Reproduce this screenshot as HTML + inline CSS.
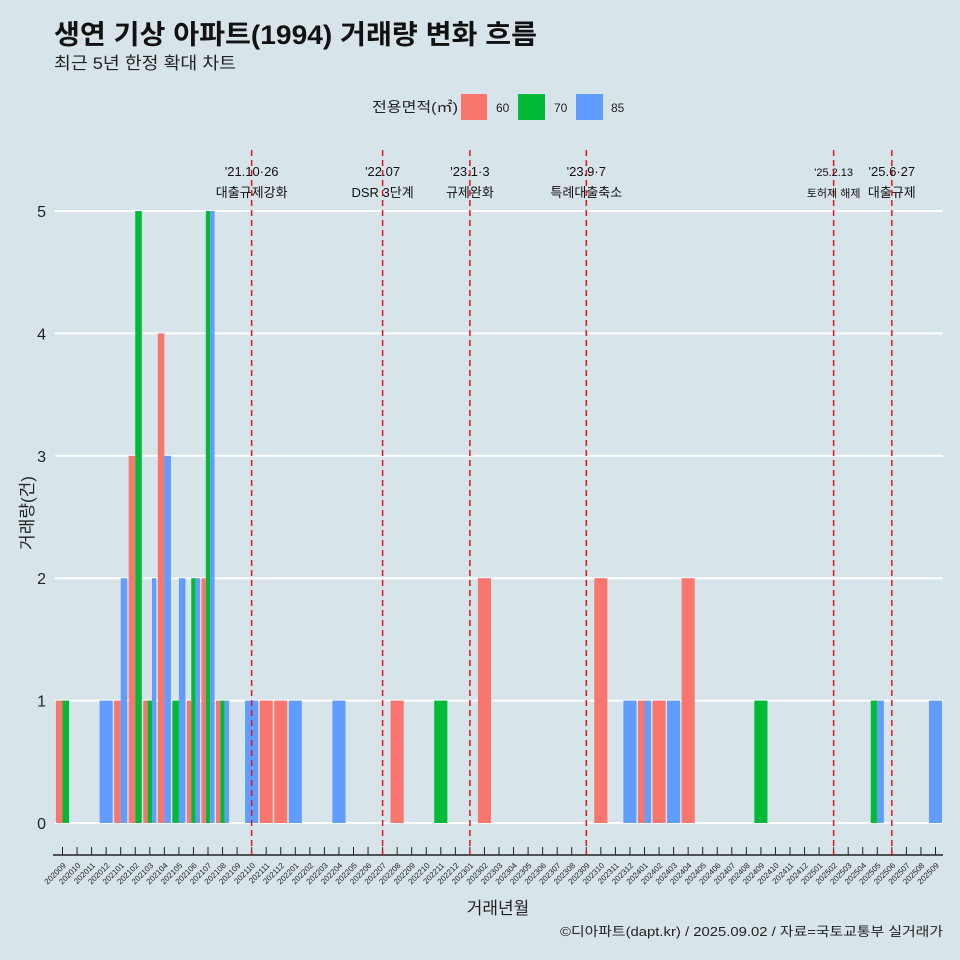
<!DOCTYPE html>
<html><head><meta charset="utf-8"><style>
body{margin:0;background:#d7e4ea;}
svg{display:block;font-family:"Liberation Sans","Noto Sans CJK KR",sans-serif;}
</style></head><body>
<svg id="c" width="960" height="960">
<rect width="960" height="960" fill="#d7e4ea"/>
<text x="54" y="44" font-size="27" font-weight="bold" fill="#111" textLength="483" lengthAdjust="spacingAndGlyphs">생연 기상 아파트(1994) 거래량 변화 흐름</text>
<text x="54" y="69" font-size="17" fill="#222" textLength="182" lengthAdjust="spacingAndGlyphs">최근 5년 한정 확대 차트</text>
<text x="560" y="936" font-size="13" fill="#222" textLength="383" lengthAdjust="spacingAndGlyphs">©디아파트(dapt.kr) / 2025.09.02 / 자료=국토교통부 실거래가</text>
<text x="498" y="914" font-size="17" fill="#222" text-anchor="middle">거래년월</text>
<text transform="translate(33,513) rotate(-90)" font-size="17" fill="#222" text-anchor="middle">거래량(건)</text>
<g>
<text x="372" y="112" font-size="14" fill="#222" textLength="86" lengthAdjust="spacingAndGlyphs">전용면적(㎡)</text>
<rect x="461" y="94" width="26" height="26" fill="#f8766d"/>
<text x="496" y="112" font-size="12" fill="#222">60</text>
<rect x="518" y="94" width="27" height="26" fill="#00ba38"/>
<text x="554" y="112" font-size="12" fill="#222">70</text>
<rect x="576" y="94" width="27" height="26" fill="#619cff"/>
<text x="611" y="112" font-size="12" fill="#222">85</text>
</g>
<g id="plot"></g>
</svg>
<script>
const months=[];for(let y=2020,m=9;!(y===2025&&m===10);){months.push(''+y+(m<10?'0':'')+m);m++;if(m>12){m=1;y++;}}
const series=['60','70','85'];
const colors={'60':'#f8766d','70':'#00ba38','85':'#619cff'};
const v60={'202009':1,'202101':1,'202102':3,'202103':1,'202104':4,'202106':1,'202107':2,'202108':1,'202111':1,'202112':1,'202208':1,'202302':2,'202310':2,'202401':1,'202402':1,'202404':2};
const v70={'202009':1,'202102':5,'202103':1,'202105':1,'202106':2,'202107':5,'202108':1,'202211':1,'202409':1,'202505':1};
const v85={'202012':1,'202101':2,'202103':2,'202104':3,'202105':2,'202106':2,'202107':5,'202108':1,'202110':1,'202201':1,'202204':1,'202312':1,'202401':1,'202403':1,'202505':1,'202509':1};
const yTicks=[0,1,2,3,4,5];
const events=['202110','202207','202301','202309','202502','202506'];
const eventTop=["'21.10·26","'22.07","'23.1·3","'23.9·7","'25.2.13","'25.6·27"];
const eventBot=['대출규제강화','DSR 3단계','규제완화','특례대출축소','토허제 해제','대출규제'];

const NS='http://www.w3.org/2000/svg';
const g=document.getElementById('plot');
function el(t,a,p){const e=document.createElementNS(NS,t);for(const k in a)e.setAttribute(k,a[k]);(p||g).appendChild(e);return e;}
const x0=62.5,step=14.55,y0=823,yu=122.4;
const xs=i=>x0+i*step;
const ys=v=>y0-v*yu;
const vals={'60':v60,'70':v70,'85':v85};
yTicks.forEach(t=>{
  const l=el('line',{x1:55,x2:943,y1:ys(t),y2:ys(t),stroke:'#fff','stroke-width':2});
  
  
  const tx=el('text',{x:46,y:ys(t)+6,'font-size':16,'text-anchor':'end',fill:'#222'});
  tx.textContent=t;
  
  
});
months.forEach((m,i)=>{
  const present=series.filter(s=>vals[s][m]);
  const w=step*0.9/ (present.length||1);
  present.forEach((s,j)=>{
    const v=vals[s][m];
    const r=el('rect',{x:xs(i)-step*0.45+j*w,y:ys(v),width:w,height:ys(0)-ys(v),fill:colors[s]});
    
    
  });
  const tk=el('line',{x1:xs(i),x2:xs(i),y1:847,y2:855,stroke:'#222','stroke-width':1});
  
  
  const tl=el('text',{transform:`translate(${xs(i)+4},${866}) rotate(-45)`,'font-size':8,'text-anchor':'end',fill:'#222'});
  tl.textContent=m;
  
  
});
const ax=el('line',{x1:53,x2:943,y1:855,y2:855,stroke:'#222','stroke-width':1.5});


events.forEach((m,k)=>{
  const i=months.indexOf(m);const x=xs(i);
  const l=el('line',{x1:x,x2:x,y1:150,y2:855,stroke:'#e8141c','stroke-width':1.5,'stroke-dasharray':'6,4'});
  
  
  const fs=k===4?11:13;
  const t1=el('text',{x:x,y:176,'font-size':fs,'text-anchor':'middle',fill:'#111'});
  t1.textContent=eventTop[k];
  
  
  const t2=el('text',{x:x,y:197,'font-size':fs,'text-anchor':'middle',fill:'#111'});
  t2.textContent=eventBot[k];
  
  
});
</script>
</body></html>
